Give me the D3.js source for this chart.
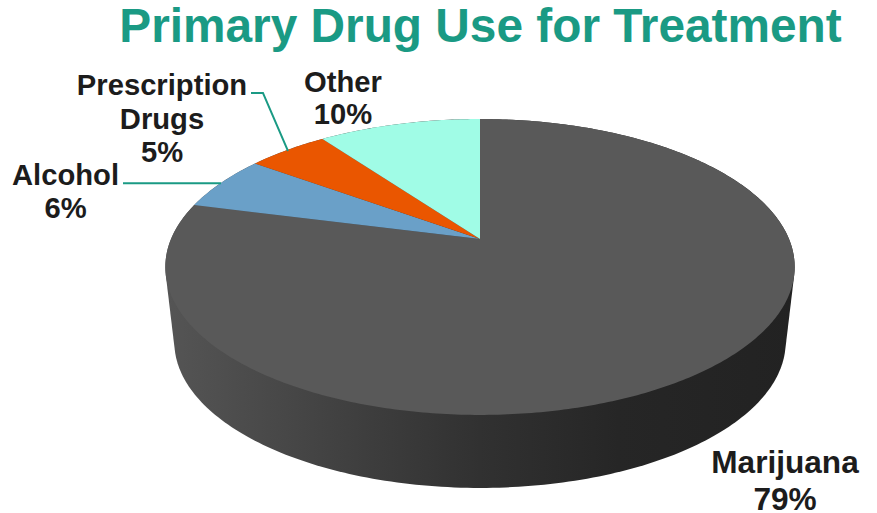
<!DOCTYPE html>
<html>
<head>
<meta charset="utf-8">
<script src="https://cdn.jsdelivr.net/npm/d3@7/dist/d3.min.js"></script>
<style>
html,body{margin:0;padding:0;background:#fff}
svg{display:block}
text{font-family:"Liberation Sans",Arial,sans-serif;font-weight:bold}
</style>
</head>
<body>
<svg id="c" width="877" height="513"></svg>
<script>
const titleText = "Primary Drug Use for Treatment";
const categories = ["Marijuana", "Alcohol", "Prescription Drugs", "Other"];
const values = [79, 6, 5, 10];
const colors = ["#595959", "#6aa0c8", "#ea5600", "#a0fce6"];
const labelLines = [["Marijuana"], ["Alcohol"], ["Prescription", "Drugs"], ["Other"]];
const labelX = [785, 65.5, 162, 343];
const labelY = [473, 185, 95, 92];
const labelSize = [31.6, 29.2, 29.2, 29.2];
const labelStep = [36.5, 33, 33.5, 32];

const svg = d3.select("#c");
const defs = svg.append("defs");
const grad = defs.append("linearGradient").attr("id", "wall")
  .attr("gradientUnits", "userSpaceOnUse")
  .attr("x1", 165).attr("x2", 795).attr("y1", 0).attr("y2", 0);
[[0, "#555555"], [0.33, "#3d3d3d"], [0.5, "#313131"], [0.72, "#262626"], [1, "#222222"]]
  .forEach(([o, c]) => grad.append("stop").attr("offset", o).attr("stop-color", c));

// Perspective projection of the pie's unit disc to the screen
const cx = 480, cy = 239, X = 309, A = -97.5, C = 0.189;
const top_ = (ang, r = 1) => {
  const u = r * Math.sin(ang), v = r * Math.cos(ang), w = 1 + C * v;
  return [cx + X * u / w, (cy + A * v) / w];
};
// Lower rim: the same ellipse, slightly smaller and dropped down
const bottom_ = (ang) => {
  const [x, y] = top_(ang);
  return [480 + (x - 480) * 306 / 315, 342 + (y - 267) * 146 / 148];
};

const pie = d3.pie().sort(null).value(d => d)(values);
const line = d3.line();
const TAU = Math.PI * 2;
const samples = d3.range(0, 361).map(i => i / 360 * TAU);

// Side wall
const hull = d3.polygonHull(samples.flatMap(a => [top_(a), bottom_(a)]));
svg.append("path")
  .attr("d", line(hull) + "Z")
  .attr("fill", "url(#wall)");

// Top face slices
svg.append("g").selectAll("path").data(pie).join("path")
  .attr("fill", (d, i) => colors[i])
  .attr("d", d => {
    const n = Math.max(2, Math.ceil((d.endAngle - d.startAngle) * 80));
    const pts = [[cx, cy]];
    for (let i = 0; i <= n; i++) pts.push(top_(d.startAngle + (d.endAngle - d.startAngle) * i / n));
    return line(pts) + "Z";
  });

// Leader lines (Alcohol, Prescription Drugs)
const leaders = [
  [[123, 183.3], [221, 183.3]],
  [[251, 93], [263, 93], [288, 151]]
];
svg.append("g").selectAll("path").data(leaders).join("path")
  .attr("d", d => line(d))
  .attr("fill", "none").attr("stroke", "#1a9a84").attr("stroke-width", 1.9);

// Title
svg.append("text").text(titleText)
  .attr("x", 480.5).attr("y", 42).attr("text-anchor", "middle")
  .attr("font-size", 47.8).attr("fill", "#1a9a84");

// Data labels
const lab = svg.append("g").selectAll("text").data(categories).join("text")
  .attr("text-anchor", "middle").attr("fill", "#1c1c1c")
  .attr("font-size", (d, i) => labelSize[i]);
lab.each(function (d, i) {
  const t = d3.select(this);
  const lines = labelLines[i].concat([values[i] + "%"]);
  lines.forEach((s, k) => {
    t.append("tspan").attr("x", labelX[i]).attr("y", labelY[i] + k * labelStep[i]).text(s);
  });
});
</script>
</body>
</html>
